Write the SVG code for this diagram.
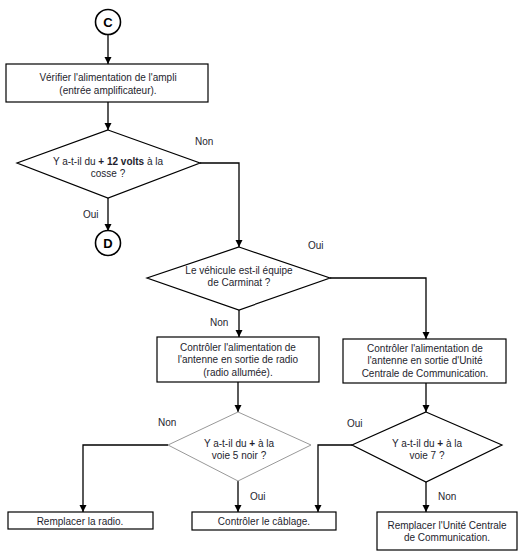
<svg xmlns="http://www.w3.org/2000/svg" width="526" height="555" viewBox="0 0 526 555">
<style>
text{font-family:"Liberation Sans",Arial,sans-serif;font-size:10px;fill:#1e1e2e}
.c{text-anchor:middle}
.box{fill:#fff;stroke:#000;stroke-width:1.2}
.dia{fill:#fff;stroke:#000;stroke-width:1.2}
.dia2{fill:#fff;stroke:#999;stroke-width:1}
.circ{fill:#fff;stroke:#000;stroke-width:1.6}
.lab{font-weight:bold;font-size:13px;fill:#000}
.ln{fill:none;stroke:#000;stroke-width:1.3}
</style>
<defs>
<marker id="ah" viewBox="0 0 10 10" refX="10" refY="5" markerWidth="7" markerHeight="8" markerUnits="userSpaceOnUse" orient="auto">
<path d="M0,0 L10,5 L0,10 Z" fill="#000"/>
</marker>
</defs>
<rect width="526" height="555" fill="#fff"/>
<g id="connectors">
<path class="ln" d="M108,35 V64" marker-end="url(#ah)"/>
<path class="ln" d="M108,102 V130" marker-end="url(#ah)"/>
<path class="ln" d="M108,198 V231" marker-end="url(#ah)"/>
<path class="ln" d="M200,163 H239 V247" marker-end="url(#ah)"/>
<path class="ln" d="M239,310 V337" marker-end="url(#ah)"/>
<path class="ln" d="M330,278 H426 V339" marker-end="url(#ah)"/>
<path class="ln" d="M238,382 V412" marker-end="url(#ah)"/>
<path class="ln" d="M426,383 V412" marker-end="url(#ah)"/>
<path class="ln" d="M168,445 H83 V512" marker-end="url(#ah)"/>
<path class="ln" d="M238,481 V512" marker-end="url(#ah)"/>
<path class="ln" d="M352,445 H318 V512" marker-end="url(#ah)"/>
<path class="ln" d="M426,482 V512" marker-end="url(#ah)"/>
<text x="195" y="145">Non</text>
<text x="83" y="218">Oui</text>
<text x="308" y="249">Oui</text>
<text x="210" y="326">Non</text>
<text x="158" y="426">Non</text>
<text x="250" y="500">Oui</text>
<text x="347" y="427">Oui</text>
<text x="438" y="500">Non</text>
</g>
<g id="nodeC">
<circle class="circ" cx="108" cy="22" r="12.5"/>
<text class="c lab" x="108" y="27">C</text>
</g>
<g id="box1">
<rect class="box" x="6" y="64" width="202" height="38"/>
<text class="c" x="108" y="81">Vérifier l'alimentation de l'ampli</text>
<text class="c" x="108" y="94">(entrée amplificateur).</text>
</g>
<g id="dia1">
<polygon class="dia" points="108,130 200,163 108,198 17,163"/>
<text class="c" x="108" y="164.5">Y a-t-il du <tspan font-weight="bold">+ 12 volts</tspan> à la</text>
<text class="c" x="108" y="177">cosse ?</text>
</g>
<g id="nodeD">
<circle class="circ" cx="108" cy="243" r="12.5"/>
<text class="c lab" x="108" y="248">D</text>
</g>
<g id="dia2">
<polygon class="dia" points="239,247 330,278 239,310 147,278"/>
<text class="c" x="239" y="273.5">Le véhicule est-il équipe</text>
<text class="c" x="239" y="285.5">de Carminat ?</text>
</g>
<g id="box2">
<rect class="box" x="157" y="337" width="162" height="45"/>
<text class="c" x="238" y="350.5">Contrôler l'alimentation de</text>
<text class="c" x="238" y="363">l'antenne en sortie de radio</text>
<text class="c" x="238" y="375.5">(radio allumée).</text>
</g>
<g id="box3">
<rect class="box" x="343" y="339" width="163" height="44"/>
<text class="c" x="425" y="351.5">Contrôler l'alimentation de</text>
<text class="c" x="425" y="364">l'antenne en sortie d'Unité</text>
<text class="c" x="425" y="376.5">Centrale de Communication.</text>
</g>
<g id="dia3">
<polygon class="dia2" points="238,412 311,445 238,481 168,445"/>
<text class="c" x="239" y="446.5">Y a-t-il du <tspan font-weight="bold">+</tspan> à la</text>
<text class="c" x="239" y="458.5">voie 5 noir ?</text>
</g>
<g id="dia4">
<polygon class="dia" points="426,412 502,445 426,482 352,445"/>
<text class="c" x="427" y="446.5">Y a-t-il du <tspan font-weight="bold">+</tspan> à la</text>
<text class="c" x="427" y="458.5">voie 7 ?</text>
</g>
<g id="box4">
<rect class="box" x="8" y="512" width="145" height="17"/>
<text class="c" x="80" y="524.5">Remplacer la radio.</text>
</g>
<g id="box5">
<rect class="box" x="192" y="512" width="144" height="18"/>
<text class="c" x="264" y="525">Contrôler le câblage.</text>
</g>
<g id="box6">
<rect class="box" x="377" y="512" width="140" height="38"/>
<text class="c" x="447" y="528.5">Remplacer l'Unité Centrale</text>
<text class="c" x="447" y="540.5">de Communication.</text>
</g>
</svg>
